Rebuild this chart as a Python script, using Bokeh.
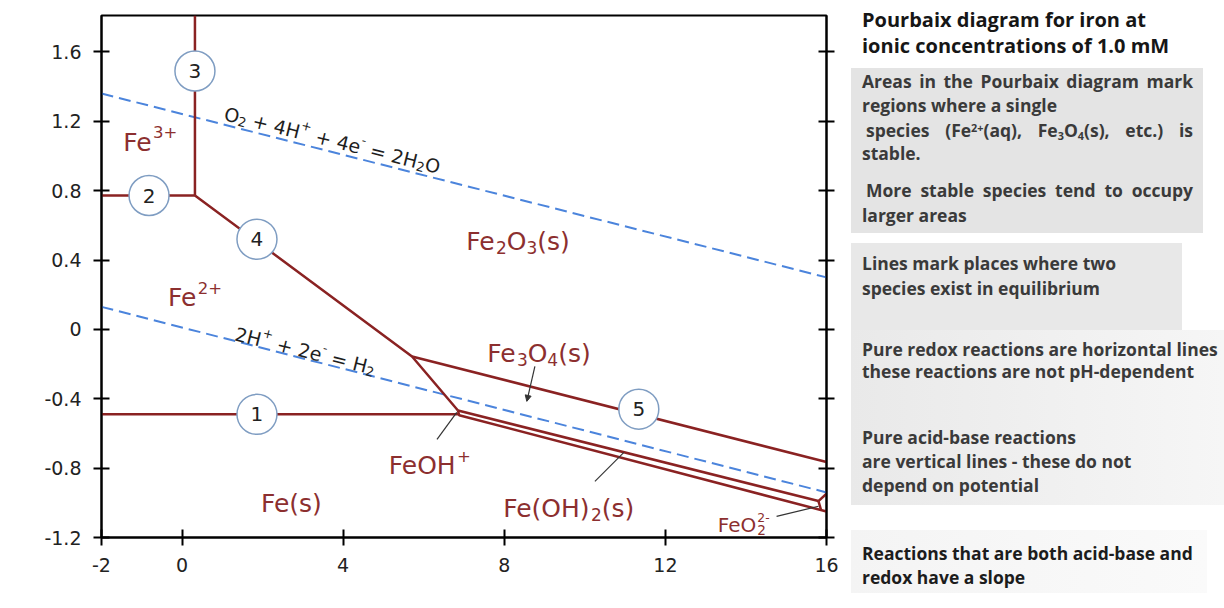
import math
from bokeh.plotting import figure
from bokeh.models import (Range1d, FixedTicker, LinearAxis, Label, Div, Arrow, NormalHead,
                          CustomLabelingPolicy)
from bokeh.layouts import row
from bokeh.embed import file_html
from bokeh.resources import INLINE
from bokeh.core.properties import value

# ---------------- data ----------------
x_ticks = [-2, 0, 4, 8, 12, 16]
x_tick_labels = ["-2", "0", "4", "8", "12", "16"]
y_ticks = [-1.2, -0.8, -0.4, 0, 0.4, 0.8, 1.2, 1.6]
y_tick_labels = ["-1.2", "-0.8", "-0.4", "0", "0.4", "0.8", "1.2", "1.6"]

# phase boundaries (pH, E / V)
b1_ph = [-2, 6.88];            b1_E = [-0.49, -0.49]            # Fe2+ / Fe  (1)
b2_ph = [-2, 0.32];            b2_E = [0.772, 0.772]            # Fe3+ / Fe2+ (2)
b3_ph = [0.32, 0.32];          b3_E = [0.772, 1.81]             # Fe3+ / Fe2O3 (3)
b4_ph = [0.32, 5.71, 6.85];    b4_E = [0.772, -0.156, -0.468]   # Fe2+ / Fe2O3 (4), Fe2+ / Fe3O4
b5_ph = [5.71, 16];            b5_E = [-0.156, -0.765]          # Fe2O3 / Fe3O4 (5)
b6_ph = [6.85, 15.8];          b6_E = [-0.468, -0.99]           # Fe3O4 / Fe(OH)2
b7_ph = [6.85, 6.88, 16];      b7_E = [-0.468, -0.495, -1.05]   # FeOH+ , Fe(OH)2 / Fe
b8_ph = [15.8, 16];            b8_E = [-0.99, -0.948]           # Fe3O4 / FeO2 2-
b9_ph = [15.8, 15.86];         b9_E = [-0.99, -1.037]           # Fe(OH)2 / FeO2 2-

# water stability lines
o2_ph = [-2, 16];  o2_E = [1.36, 0.30]
h2_ph = [-2, 16];  h2_E = [0.13, -0.94]

# numbered circles
circle_ph = [1.86, -0.82, 0.32, 1.86, 11.34]
circle_E = [-0.49, 0.772, 1.49, 0.52, -0.46]
circle_num = ["1", "2", "3", "4", "5"]

# species labels: (parts, pH, E, size)
species_labels = [
    ([("Fe", "n"), ("3+", "sup")], -0.79, 1.13, 25),
    ([("Fe", "n"), ("2+", "sup")], 0.32, 0.235, 25),
    ([("Fe", "n"), ("2", "sub"), ("O", "n"), ("3", "sub"), ("(s)", "n")], 8.34, 0.56, 25),
    ([("Fe", "n"), ("3", "sub"), ("O", "n"), ("4", "sub"), ("(s)", "n")], 8.86, -0.086, 25),
    ([("FeOH", "n"), ("+", "sup")], 6.15, -0.735, 25),
    ([("Fe(OH)", "n"), ("2", "sub"), ("(s)", "n")], 9.6, -0.98, 25),
    ([("Fe(s)", "n")], 2.73, -0.95, 25),
    ([("FeO", "n"), ("2-", "sup0"), ("2", "sub")], 13.9, -1.085, 20),
]
# equation labels: (parts, pH, E, size, angle)
eq_labels = [
    ([("O", "n"), ("2", "sub"), (" + 4H", "n"), ("+", "sup"), (" + 4e", "n"), ("-", "sup"),
      (" = 2H", "n"), ("2", "sub"), ("O", "n")], 3.77, 1.13, 19, -0.245),
    ([("2H", "n"), ("+", "sup"), (" + 2e", "n"), ("-", "sup"), (" = H", "n"), ("2", "sub")],
     3.1, -0.085, 19, -0.245),
]

# leader lines (pH0, E0, pH1, E1)
arrow_Fe3O4 = [8.76, -0.213, 8.56, -0.415]
lead_FeOH = [6.33, -0.634, 6.82, -0.478]
lead_FeOH2 = [10.25, -0.876, 10.97, -0.709]
lead_FeO2 = [14.76, -1.078, 15.8, -1.02]

# ---------------- styles ----------------
RED_LINE = "#8a2222"
RED_TEXT = "#8c2f2f"
BLUE = "#4b84dc"
FONT = "DejaVu Sans"
NBSP = "\u00a0"

W = {" ": .318, "+": .838, "-": .361, "=": .838, "(": .390, ")": .390, ".": .318,
     "F": .575, "e": .615, "O": .787, "H": .752, "s": .521}
for d in "0123456789":
    W[d] = .636


def tw(s, size):
    return sum(W.get(ch, 0.6) for ch in s) * size


def rich(p, x, y, parts, size, color, angle=0.0):
    scale = {"n": 1.0, "sub": 0.68, "sup": 0.66, "sup0": 0.62}
    shift = {"n": 0.0, "sub": 0.24, "sup": -0.40, "sup0": -0.38}
    total = 0.0
    for t, k in parts:
        if k != "sup0":
            total += tw(t, size * scale[k])
    dx = -total / 2.0
    base = 0.36 * size
    c, s = math.cos(angle), math.sin(angle)
    txt, xo, yo, fs = [], [], [], []
    for t, k in parts:
        f = size * scale[k]
        ox = dx
        oy = base + shift[k] * size
        xo.append(ox * c + oy * s)
        yo.append(-ox * s + oy * c)
        txt.append(t.replace(" ", NBSP))
        fs.append(f"{f:.1f}px")
        if k != "sup0":
            dx += tw(t, f)
    n = len(txt)
    p.text(x=[x] * n, y=[y] * n, text=txt, x_offset=xo, y_offset=yo, angle=angle,
           text_font=value(FONT), text_font_size=fs, text_align="left",
           text_baseline="alphabetic", text_color=color)


# ---------------- figure ----------------
p = figure(width=851, height=604, x_range=Range1d(-2, 16), y_range=Range1d(-1.2, 1.81),
           output_backend="svg", toolbar_location=None,
           min_border_left=101, min_border_right=25, min_border_top=15, min_border_bottom=67)
p.grid.visible = False
p.outline_line_color = "black"
p.outline_line_width = 2
p.background_fill_color = "white"
p.border_fill_color = "white"

xa = p.xaxis[0]
xa.ticker = FixedTicker(ticks=x_ticks)
xa.major_label_overrides = dict(zip(x_ticks, x_tick_labels))
ya = p.yaxis[0]
ya.ticker = FixedTicker(ticks=y_ticks)
ya.major_label_overrides = dict(zip(y_ticks, y_tick_labels))
ra = LinearAxis(ticker=FixedTicker(ticks=y_ticks), major_label_text_font_size="0px")
ra.major_label_policy = CustomLabelingPolicy(
    code="for (const i of Array.from(indices)) { indices.unset(i) }\nreturn indices")
p.add_layout(ra, "right")
for ax in (xa, ya, ra):
    ax.axis_line_color = "black"
    ax.axis_line_width = 2
    ax.major_tick_line_color = "black"
    ax.major_tick_line_width = 2
    ax.major_tick_in = 8
    ax.major_tick_out = 8
    ax.minor_tick_line_color = None
    ax.major_label_text_font = FONT
    ax.major_label_text_color = "#222222"
xa.major_label_text_font_size = "19px"
ya.major_label_text_font_size = "19px"
xa.major_label_standoff = 12
ya.major_label_standoff = 12

# water lines
p.line(o2_ph, o2_E, line_color=BLUE, line_width=2, line_dash="12 6")
p.line(h2_ph, h2_E, line_color=BLUE, line_width=2, line_dash="12 6")

# boundaries
for bx, by in [(b1_ph, b1_E), (b2_ph, b2_E), (b3_ph, b3_E), (b4_ph, b4_E), (b5_ph, b5_E),
               (b6_ph, b6_E), (b7_ph, b7_E), (b8_ph, b8_E), (b9_ph, b9_E)]:
    p.line(bx, by, line_color=RED_LINE, line_width=2.5)

# leaders
for seg in (lead_FeOH, lead_FeOH2, lead_FeO2):
    p.segment(x0=[seg[0]], y0=[seg[1]], x1=[seg[2]], y1=[seg[3]], line_color="#333333", line_width=1.2)
p.add_layout(Arrow(x_start=arrow_Fe3O4[0], y_start=arrow_Fe3O4[1], x_end=arrow_Fe3O4[2], y_end=arrow_Fe3O4[3],
                   line_color="#333333", line_width=1.2,
                   end=NormalHead(size=6, fill_color="#333333", line_color="#333333")))

# circles
p.scatter(circle_ph, circle_E, marker="circle", size=40, fill_color="white",
          line_color="#7f9dc2", line_width=1.5)
p.text(circle_ph, circle_E, text=circle_num, text_font=value(FONT), text_font_size="20px",
       text_align="center", text_baseline="middle", text_color="#222222")

for parts, x, y, size in species_labels:
    rich(p, x, y, parts, size, RED_TEXT)
for parts, x, y, size, ang in eq_labels:
    rich(p, x, y, parts, size, "#1e1e1e", ang)

p.add_layout(Label(x=-3.85, y=0.115, text="E / V", angle=math.pi / 2, text_align="center",
                   text_baseline="middle", text_font=FONT, text_font_size="22px", text_color="#222222"))
p.add_layout(Label(x=7.25, y=-1.52, text="pH", text_align="center", text_baseline="middle",
                   text_font=FONT, text_font_size="22px", text_color="#222222"))

# ---------------- side panel ----------------
PX, PY = 851, 0


def ln(cy, html, x=862, width=None, justify=False, size=17.5, color="#3a3a3a"):
    lh = 24
    st = (f"position:absolute;left:{x - PX}px;top:{cy - PY - lh / 2}px;line-height:{lh}px;"
          f"font-size:{size}px;color:{color};white-space:nowrap;")
    if width:
        st += f"width:{width}px;"
    if justify:
        st += "text-align:justify;text-align-last:justify;white-space:normal;"
    return f'<div style="{st}">{html}</div>'


def box(x0, y0, x1, y1, bg):
    return (f'<div style="position:absolute;left:{x0 - PX}px;top:{y0 - PY}px;width:{x1 - x0}px;'
            f'height:{y1 - y0}px;background:{bg};"></div>')


SUP = '<span style="font-size:0.62em;position:relative;top:-0.45em;">'
SUB = '<span style="font-size:0.62em;position:relative;top:0.25em;">'
E = '</span>'

panel = [
    box(851, 68, 1203, 233, "#e4e4e4"),
    box(851, 243, 1182, 330, "#e8e8e8"),
    box(851, 330, 1224, 505, "linear-gradient(to right,#e9e9e9,#f6f6f6)"),
    box(851, 530, 1207, 593, "linear-gradient(to right,#f4f4f4,#fafafa)"),
    ln(20, "Pourbaix diagram for iron at", size=20, color="#161616"),
    ln(46, "ionic concentrations of 1.0 mM", size=20, color="#161616"),
    ln(81, "Areas in the Pourbaix diagram mark", width=331, justify=True),
    ln(105, "regions where a single"),
    ln(130, f"species (Fe{SUP}2+{E}(aq), Fe{SUB}3{E}O{SUB}4{E}(s), etc.) is", x=866, width=327, justify=True),
    ln(153, "stable."),
    ln(190, "More stable species tend to occupy", x=866, width=327, justify=True),
    ln(215, "larger areas"),
    ln(263, "Lines mark places where two"),
    ln(288, "species exist in equilibrium"),
    ln(349, "Pure redox reactions are horizontal lines"),
    ln(371, "these reactions are not pH-dependent"),
    ln(437, "Pure acid-base reactions"),
    ln(461, "are vertical lines - these do not"),
    ln(485, "depend on potential"),
    ln(553, "Reactions that are both acid-base and", color="#1c1c1c"),
    ln(577, "redox have a slope", color="#1c1c1c"),
]
html = ('<div style="position:relative;width:373px;height:604px;font-family:\'Open Sans\',Lato,sans-serif;'
        'font-weight:700;overflow:hidden;">' + "".join(panel) + '</div>')
div = Div(text=html, width=373, height=604, margin=0)

layout = row(p, div, spacing=0)
open("out.html", "w").write(file_html(layout, INLINE))
